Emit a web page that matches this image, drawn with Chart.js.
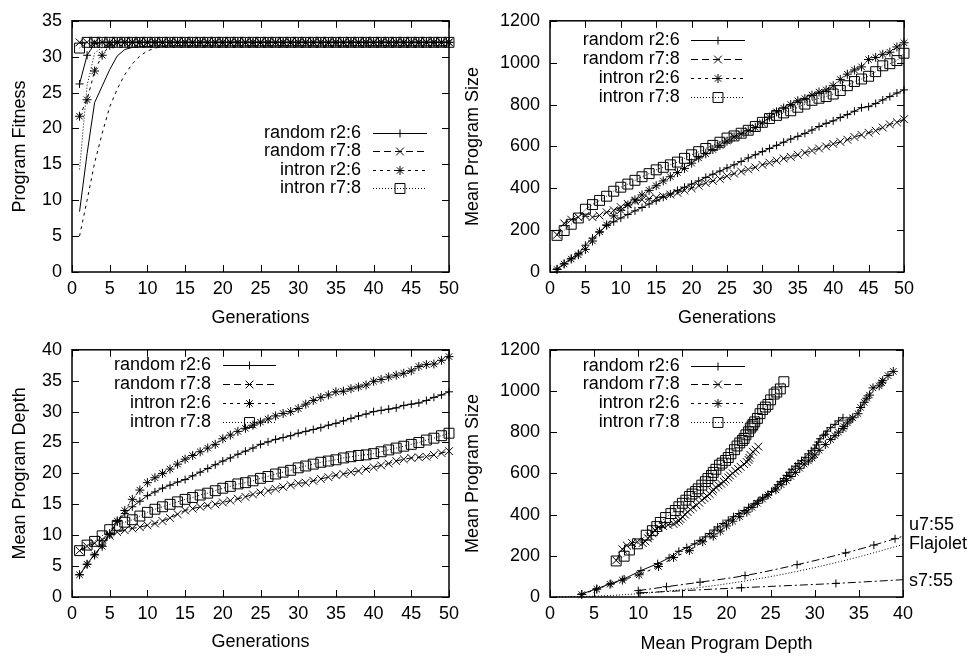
<!DOCTYPE html>
<html><head><meta charset="utf-8">
<script src="https://cdn.jsdelivr.net/npm/chart.js@4.4.1/dist/chart.umd.min.js"></script>
<style>
html,body{margin:0;padding:0;background:#fff;width:974px;height:658px;overflow:hidden}
canvas{position:absolute}
</style></head><body>
<canvas id="c1" width="487" height="329" style="left:0px;top:0px;width:487px;height:329px"></canvas>
<canvas id="c2" width="519" height="329" style="left:455px;top:0px;width:519px;height:329px"></canvas>
<canvas id="c3" width="487" height="329" style="left:0px;top:329px;width:487px;height:329px"></canvas>
<canvas id="c4" width="519" height="329" style="left:455px;top:329px;width:519px;height:329px"></canvas>
<script>
// ---------------- DATA ----------------
const generations = [1,2,3,4,5,6,7,8,9,10,11,12,13,14,15,16,17,18,19,20,21,22,23,24,25,26,27,28,29,30,31,32,33,34,35,36,37,38,39,40,41,42,43,44,45,46,47,48,49,50];
const seriesNames = ['random r2:6','random r7:8','intron r2:6','intron r7:8'];

// Panel 1: program fitness (best, with markers) and mean fitness (lines only)
const fitBestRandomR26 = [26.2,30.2,31.8,32,32,32,32,32,32,32, 32,32,32,32,32,32,32,32,32,32, 32,32,32,32,32,32,32,32,32,32, 32,32,32,32,32,32,32,32,32,32, 32,32,32,32,32,32,32,32,32,32];
const fitBestRandomR78 = [32,32,32,32,32,32,32,32,32,32, 32,32,32,32,32,32,32,32,32,32, 32,32,32,32,32,32,32,32,32,32, 32,32,32,32,32,32,32,32,32,32, 32,32,32,32,32,32,32,32,32,32];
const fitBestIntronR26 = [21.7,24.0,28.0,30.2,31.6,32,32,32,32,32, 32,32,32,32,32,32,32,32,32,32, 32,32,32,32,32,32,32,32,32,32, 32,32,32,32,32,32,32,32,32,32, 32,32,32,32,32,32,32,32,32,32];
const fitBestIntronR78 = [31.2,32,32,32,32,32,32,32,32,32, 32,32,32,32,32,32,32,32,32,32, 32,32,32,32,32,32,32,32,32,32, 32,32,32,32,32,32,32,32,32,32, 32,32,32,32,32,32,32,32,32,32];
const fitMeanRandomR26 = [8.4,16.5,23.6,25.9,28.2,30.1,31.0,31.3,31.4,31.4, 31.5,31.5,31.5,31.5,31.5,31.5,31.5,31.5,31.5,31.5, 31.5,31.5,31.5,31.5,31.5,31.5,31.5,31.5,31.5,31.5, 31.5,31.5,31.5,31.5,31.5,31.5,31.5,31.5,31.5,31.5, 31.5,31.5,31.5,31.5,31.5,31.5,31.5,31.5,31.5,31.5];
const fitMeanRandomR78 = [5.0,10.0,15.2,19.3,23.0,25.5,27.5,29.0,30.1,30.8, 31.2,31.4,31.5,31.5,31.5,31.5,31.5,31.5,31.5,31.5, 31.5,31.5,31.5,31.5,31.5,31.5,31.5,31.5,31.5,31.5, 31.5,31.5,31.5,31.5,31.5,31.5,31.5,31.5,31.5,31.5, 31.5,31.5,31.5,31.5,31.5,31.5,31.5,31.5,31.5,31.5];
const fitMeanIntronR78 = [14.3,26.0,30.5,31.3,31.5,31.5,31.5,31.5,31.5,31.5, 31.5,31.5,31.5,31.5,31.5,31.5,31.5,31.5,31.5,31.5, 31.5,31.5,31.5,31.5,31.5,31.5,31.5,31.5,31.5,31.5, 31.5,31.5,31.5,31.5,31.5,31.5,31.5,31.5,31.5,31.5, 31.5,31.5,31.5,31.5,31.5,31.5,31.5,31.5,31.5,31.5];

// Panel 2: mean program size
const sizeRandomR26 = [15,40,65,88,128,162,190,222,240,258, 275,292,308,325,340,357,373,390,405,420, 435,452,467,482,497,512,528,545,560,575, 590,605,620,635,648,662,678,695,710,722, 738,752,768,785,790,805,822,838,855,870];
const sizeRandomR78 = [178,232,250,262,268,262,270,285,295,310, 325,338,345,350,355,362,370,378,390,400, 412,425,435,445,458,470,480,490,500,512, 522,532,542,550,560,570,580,590,600,612, 622,632,645,655,665,675,690,705,715,730];
const sizeIntronR26 = [12,38,62,82,108,148,192,225,268,295, 320,345,368,390,412,435,455,475,495,520, 545,565,585,605,625,645,660,675,690,712, 740,765,783,800,818,828,845,860,870,890, 920,945,965,980,1015,1025,1040,1050,1075,1095];
const sizeIntronR78 = [175,198,228,258,300,322,342,362,386,405, 420,438,455,470,488,500,512,525,543,560, 575,590,605,620,640,650,663,677,695,715, 733,748,760,770,787,802,820,830,838,850, 867,890,910,922,935,957,985,995,1010,1045];

// Panel 3: mean program depth
const depthRandomR26 = [3.6,5.3,6.9,8.4,10.3,12.2,13.5,14.6,15.5,16.4, 17.0,17.6,18.1,18.6,19.0,19.6,20.2,20.8,21.4,22.0, 22.5,23.1,23.6,24.1,24.7,25.1,25.5,25.8,26.1,26.5, 26.8,27.1,27.4,27.8,28.1,28.5,28.9,29.3,29.6,30.0, 30.2,30.4,30.6,31.0,31.2,31.4,31.8,32.3,32.7,33.2];
const depthRandomR78 = [7.5,8.2,8.7,9.3,9.9,10.5,10.8,11.1,11.3,11.6, 11.9,12.3,12.8,13.4,14.0,14.3,14.6,14.8,15.0,15.3, 15.6,15.9,16.2,16.6,16.9,17.2,17.5,17.8,18.1,18.4, 18.5,18.8,19.1,19.4,19.7,19.9,20.2,20.4,20.7,21.0, 21.3,21.6,22.0,22.3,22.5,22.6,22.7,23.0,23.3,23.6];
const depthIntronR26 = [3.6,5.3,6.8,8.2,10.1,12.3,14.0,15.8,17.3,18.5, 19.3,20.0,20.7,21.5,22.3,22.9,23.5,24.1,24.7,25.6, 26.2,26.8,27.3,27.8,28.3,28.8,29.3,29.7,30.0,30.5, 31.2,31.8,32.3,32.7,33.2,33.3,33.7,34.0,34.3,34.9, 35.2,35.6,35.9,36.2,36.6,37.3,37.6,37.7,38.3,38.9];
const depthIntronR78 = [7.5,8.4,9.0,9.9,10.9,11.6,12.1,12.5,13.1,13.7, 14.2,14.6,15.0,15.4,15.8,16.1,16.5,16.8,17.2,17.6, 17.9,18.3,18.5,18.8,19.2,19.5,19.9,20.2,20.5,20.9, 21.2,21.5,21.8,22.0,22.2,22.5,22.7,22.9,23.0,23.2, 23.5,23.8,24.1,24.4,24.7,25.0,25.4,25.7,26.1,26.5];

// Panel 4: theoretical reference curves (size vs depth)
const u755Depth = [10.0,13.2,17.0,22.1,28.0,33.5,36.7,39.1,40];
const u755Size  = [31,50,72,104,157,214,252,283,295];
const flajoletDepth = [0,5,10,15,20,25,30,35,40];
const flajoletSize  = [0,4,16,36,64,99,143,195,255];
const s755Depth = [10.2,21.7,32.4,40];
const s755Size  = [20,45,66,84];
const refLabels = ['u7:55','Flajolet','s7:55'];

// ---------------- STYLE ----------------
Chart.defaults.font.family = '"Liberation Sans", Arial, Helvetica, sans-serif';
Chart.defaults.font.size = 18;
Chart.defaults.color = '#000';

const STY = [
  {borderDash: [], pointStyle: 'cross', pointRadius: 4},
  {borderDash: [7,4], pointStyle: 'crossRot', pointRadius: 5.5},
  {borderDash: [3,4], pointStyle: 'star', pointRadius: 4.5},
  {borderDash: [1,2], pointStyle: 'rect', pointRadius: 7}
];
function pts(xs, ys){ return xs.map((x,i)=>({x:x, y:ys[i]})); }
function ds(label, data, k, extra){
  return Object.assign({
    label: label, data: data, inLegend: true,
    borderColor:'#000', borderWidth:1, borderDash: STY[k].borderDash,
    pointStyle: STY[k].pointStyle, pointRadius: STY[k].pointRadius,
    pointBorderColor:'#000', pointBackgroundColor:'rgba(0,0,0,0)', pointBorderWidth:1,
    pointHoverRadius: STY[k].pointRadius, fill:false, tension:0, clip:false
  }, extra||{});
}
function plainLine(data, dash, extra){
  return Object.assign({label:'', data:data, inLegend:false, borderColor:'#000', borderWidth:1,
    borderDash:dash, pointRadius:0, pointHoverRadius:0, fill:false, tension:0, clip:false}, extra||{});
}

const framePlugin = {
  id:'gpFrame',
  afterDraw(chart){
    const {ctx, chartArea:a, scales:{x,y}} = chart;
    ctx.save(); ctx.strokeStyle='#000'; ctx.setLineDash([]); ctx.lineWidth=1;
    const L=7; ctx.beginPath();
    x.ticks.forEach(t=>{ const p=Math.round(x.getPixelForValue(t.value))+0.5;
      ctx.moveTo(p,a.bottom); ctx.lineTo(p,a.bottom-L); ctx.moveTo(p,a.top); ctx.lineTo(p,a.top+L); });
    y.ticks.forEach(t=>{ const p=Math.round(y.getPixelForValue(t.value))+0.5;
      ctx.moveTo(a.left,p); ctx.lineTo(a.left+L,p); ctx.moveTo(a.right,p); ctx.lineTo(a.right-L,p); });
    ctx.stroke();
    ctx.lineWidth=1.5; ctx.strokeRect(a.left, a.top, a.right-a.left, a.bottom-a.top);
    ctx.restore();
  }
};

function drawMarker(ctx, style, r, x, y){
  if (Chart.helpers && Chart.helpers.drawPoint) {
    ctx.fillStyle='rgba(0,0,0,0)';
    Chart.helpers.drawPoint(ctx, {pointStyle:style, radius:r, rotation:0, borderWidth:1}, x, y);
  }
}

const legendPlugin = {
  id:'gpLegend',
  afterDatasetsDraw(chart, args, o){
    if (!o || o.textRight === undefined) return;
    const ctx = chart.ctx; ctx.save();
    ctx.font = '18px "Liberation Sans", Arial, sans-serif';
    ctx.textAlign='right'; ctx.textBaseline='middle';
    let r = 0;
    chart.data.datasets.forEach(d=>{
      if (!d.inLegend) return;
      const y = o.top + r*o.step; r++;
      ctx.fillStyle='#000';
      ctx.fillText(d.label, o.textRight, y);
      ctx.strokeStyle='#000'; ctx.lineWidth=1;
      ctx.setLineDash(d.borderDash||[]);
      ctx.beginPath(); ctx.moveTo(o.x1, Math.round(y)+0.5); ctx.lineTo(o.x2, Math.round(y)+0.5); ctx.stroke();
      ctx.setLineDash([]);
      drawMarker(ctx, d.pointStyle, d.pointRadius, (o.x1+o.x2)/2, Math.round(y)+0.5);
    });
    ctx.restore();
  }
};

const sideLabelPlugin = {
  id:'gpSide',
  afterDraw(chart, args, o){
    if (!o || !o.items) return;
    const ctx = chart.ctx, a = chart.chartArea, y = chart.scales.y;
    ctx.save(); ctx.font='18px "Liberation Sans", Arial, sans-serif';
    ctx.fillStyle='#000'; ctx.textAlign='left'; ctx.textBaseline='middle';
    o.items.forEach(it=>ctx.fillText(it.text, a.right + o.gap, y.getPixelForValue(it.at)));
    ctx.restore();
  }
};

function axis(isX, min, max, step, title, titlePad, g){
  return {
    type:'linear', position: isX?'bottom':'left', min:min, max:max,
    grid:{display:false, drawTicks:false}, border:{display:false},
    ticks:{stepSize:step, padding: isX?6:10, color:'#000', font:{size:18}, maxRotation:0, autoSkip:false,
      callback: v => String(v)},
    title:{display:true, text:title, color:'#000', font:{size:18},
      padding: isX?{top:0,bottom:titlePad}:{top:titlePad,bottom:0}},
    afterFit: s => { if (isX) s.height = g.H - g.bottom; else s.width = g.left; }
  };
}

function makeChart(id, g, datasets, xa, ya, legendOpts, sideOpts){
  return new Chart(document.getElementById(id), {
    type:'line',
    data:{datasets:datasets},
    options:{
      responsive:false, animation:false, devicePixelRatio:1, events:[],
      layout:{padding:{left:0, top:g.top, right:g.W-g.right, bottom:0}},
      scales:{x:xa, y:ya},
      plugins:{legend:{display:false}, tooltip:{enabled:false}, gpLegend:legendOpts, gpSide:sideOpts||{}}
    },
    plugins:[legendPlugin, sideLabelPlugin, framePlugin]
  });
}

// ---------------- PANELS ----------------
const g1 = {W:487, H:329, left:72, top:15, right:449, bottom:272};
makeChart('c1', g1, [
  ds(seriesNames[0], pts(generations, fitBestRandomR26), 0),
  ds(seriesNames[1], pts(generations, fitBestRandomR78), 1),
  ds(seriesNames[2], pts(generations, fitBestIntronR26), 2),
  ds(seriesNames[3], pts(generations, fitBestIntronR78), 3),
  plainLine(pts(generations, fitMeanRandomR26), []),
  plainLine(pts(generations, fitMeanRandomR78), [3,4]),
  plainLine(pts(generations, fitMeanIntronR78), [1,2])
], axis(true,0,50,5,'Generations',0,g1), axis(false,0,35,5,'Program Fitness',9,g1),
  {textRight:361, x1:373, x2:427, top:132.7, step:18.5});

const g2 = {W:519, H:329, left:95, top:15, right:449, bottom:272};
makeChart('c2', g2, [
  ds(seriesNames[0], pts(generations, sizeRandomR26), 0),
  ds(seriesNames[1], pts(generations, sizeRandomR78), 1),
  ds(seriesNames[2], pts(generations, sizeIntronR26), 2),
  ds(seriesNames[3], pts(generations, sizeIntronR78), 3)
], axis(true,0,50,5,'Generations',0,g2), axis(false,0,1200,200,'Mean Program Size',7.5,g2),
  {textRight:224.7, x1:236, x2:290, top:40, step:18.9});

const g3 = {W:487, H:329, left:72, top:12, right:449, bottom:268};
makeChart('c3', g3, [
  ds(seriesNames[0], pts(generations, depthRandomR26), 0),
  ds(seriesNames[1], pts(generations, depthRandomR78), 1),
  ds(seriesNames[2], pts(generations, depthIntronR26), 2),
  ds(seriesNames[3], pts(generations, depthIntronR78), 3)
], axis(true,0,50,5,'Generations',5,g3), axis(false,0,40,5,'Mean Program Depth',9,g3),
  {textRight:211, x1:223, x2:276, top:36, step:18.9});

const g4 = {W:519, H:329, left:95, top:12, right:448, bottom:268};
makeChart('c4', g4, [
  ds(seriesNames[0], pts(depthRandomR26, sizeRandomR26), 0),
  ds(seriesNames[1], pts(depthRandomR78, sizeRandomR78), 1),
  ds(seriesNames[2], pts(depthIntronR26, sizeIntronR26), 2),
  ds(seriesNames[3], pts(depthIntronR78, sizeIntronR78), 3),
  plainLine(pts(u755Depth, u755Size), [8,3,2,3], {label:refLabels[0], pointStyle:'cross',
     pointRadius: c => (c.raw && c.raw.x >= 40) ? 0 : 4, pointBorderColor:'#000', pointBorderWidth:1, cubicInterpolationMode:'monotone'}),
  plainLine(pts(flajoletDepth, flajoletSize), [1,2], {label:refLabels[1], cubicInterpolationMode:'monotone'}),
  plainLine(pts(s755Depth, s755Size), [8,3,2,3], {label:refLabels[2], pointStyle:'cross',
     pointRadius: c => (c.raw && c.raw.x >= 40) ? 0 : 4, pointBorderColor:'#000', pointBorderWidth:1, cubicInterpolationMode:'monotone'})
], axis(true,0,40,5,'Mean Program Depth',3,g4), axis(false,0,1200,200,'Mean Program Size',7.5,g4),
  {textRight:224.7, x1:236, x2:290, top:36.7, step:18.7},
  {gap:6, items:[{text:refLabels[0], at:350},{text:refLabels[1], at:256},{text:refLabels[2], at:76}]});
</script>
</body></html>
